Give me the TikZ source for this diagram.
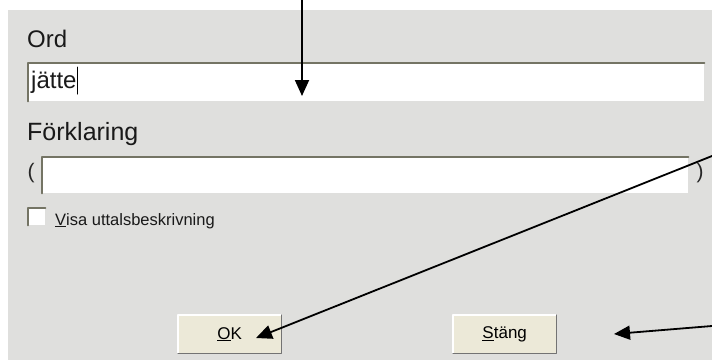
\documentclass[tikz,border=0pt]{standalone}
\usepackage{fontspec}
\setmainfont{Liberation Sans}
\usetikzlibrary{arrows.meta, calc}

\definecolor{panel}{RGB}{223,223,221}
\definecolor{btnface}{RGB}{236,233,216}
\definecolor{sunken}{RGB}{116,116,100}

\begin{document}
\begin{tikzpicture}[x=1pt, y=-1pt, line cap=round, line join=round,
    lbl/.style={anchor=base west, inner sep=0, text=black!90},
    field/.style={fill=white, anchor=north west, inner sep=0},
    button/.style={fill=btnface, anchor=north west, minimum width=103pt, minimum height=38pt, inner sep=0, font=\fontsize{17}{20}\selectfont},
    pointer/.style={black, line width=1.8pt, -{Triangle[length=16pt, width=14pt]}}]
    \useasboundingbox (0,0) rectangle (712,360);
    \fill[panel] (8,10) rectangle (712,360);

    % Labels
    \draw (27,47) node[lbl, font=\fontsize{24}{28}\selectfont] (ord) {Ord};
    \draw (27,140) node[lbl, font=\fontsize{25}{29}\selectfont] (forkl) {Förklaring};

    % Text fields
    \draw (28,63) node[field, minimum width=676pt, minimum height=38pt] (ordfield) {};
    \draw (42,157) node[field, minimum width=646pt, minimum height=36pt] (forkfield) {};
    \draw (28,208) node[field, minimum width=17pt, minimum height=17pt] (check) {};
    \foreach \f in {ordfield, forkfield, check} {
            \draw[sunken, line width=2pt] (\f.south west) -- (\f.north west) -- (\f.north east);
        }
    \draw (31,88) node[lbl, font=\fontsize{24}{28}\selectfont] (word) {jätte};
    \draw[black, line width=1pt] ($(word.base east)+(1,-21)$) -- ($(word.base east)+(1,6)$);
    \draw (31,173) node[inner sep=0, font=\fontsize{21}{24}\selectfont, text=black!85] (lpar) {(};
    \draw (700,173) node[inner sep=0, font=\fontsize{21}{24}\selectfont, text=black!85] (rpar) {)};
    \draw (55,225) node[lbl, font=\fontsize{16.5}{20}\selectfont] (visa) {\underline{V}isa uttalsbeskrivning};

    % Buttons
    \draw (178,315) node[button] (ok) {\underline{O}K};
    \draw (453,315) node[button] (stang) {\underline{S}täng};
    \foreach \b in {ok, stang} {
            \draw[white, line width=1.5pt] (\b.south west) -- (\b.north west) -- (\b.north east);
            \draw[black!55, line width=1.5pt] (\b.north east) -- (\b.south east) -- (\b.south west);
        }

    % Arrows
    \coordinate (t1) at (302,0);
    \coordinate (h1) at (302,96);
    \coordinate (t2) at (712,156);
    \coordinate (h2) at (256,338);
    \coordinate (t3) at (712,326);
    \coordinate (h3) at (614,334);
    \foreach \source/\target in {t1/h1, t2/h2, t3/h3} {
            \draw[pointer] (\source) -- (\target);
        }
\end{tikzpicture}
\end{document}
